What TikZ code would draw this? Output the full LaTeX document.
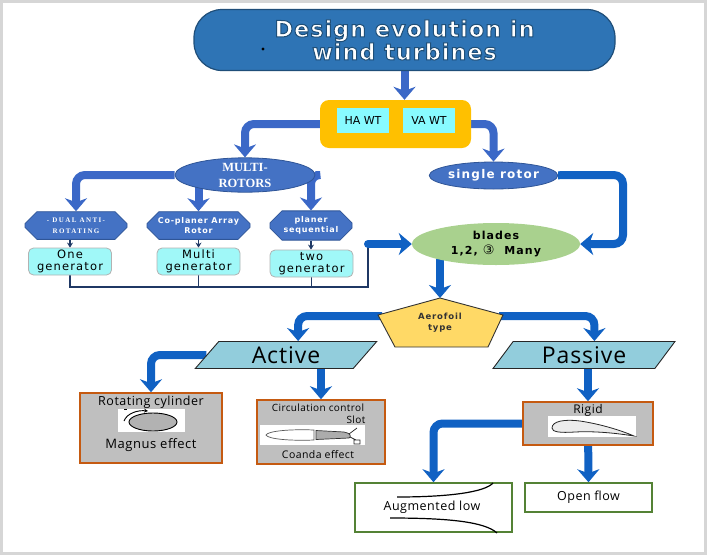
\documentclass[tikz,border=0pt]{standalone}
\usepackage{fontspec}
\setmainfont{DejaVu Sans}
\newfontfamily\spfont[LetterSpace=10]{DejaVu Sans}
\newfontfamily\titlefont[LetterSpace=4]{DejaVu Sans}
\newfontfamily\osfont[LetterSpace=4]{Open Sans}
\newfontfamily\serfont{Liberation Serif}
\newfontfamily\octfont[LetterSpace=20]{Liberation Serif}
\newcommand{\outlined}[1]{\special{pdf:code 2 Tr 1 w 0.12 0.31 0.47 RG}#1\special{pdf:code 0 Tr}}
\usetikzlibrary{arrows.meta,shapes.misc,shapes.geometric,backgrounds}
\definecolor{titleblue}{HTML}{2E74B5}
\definecolor{titleedge}{HTML}{1F4E79}
\definecolor{upblue}{HTML}{3B68C7}
\definecolor{lowblue}{HTML}{1061C3}
\definecolor{hubyellow}{HTML}{FFC000}
\definecolor{wtcyan}{HTML}{88FBFF}
\definecolor{rotorblue}{HTML}{4472C4}
\definecolor{rotoredge}{HTML}{2F5597}
\definecolor{gencyan}{HTML}{A0F8F8}
\definecolor{busnavy}{HTML}{1F3864}
\definecolor{bladegreen}{HTML}{A9D18E}
\definecolor{aerofill}{HTML}{FFD966}
\definecolor{typeblue}{HTML}{92CDDC}
\definecolor{boxgray}{HTML}{BFBFBF}
\definecolor{boxorange}{HTML}{C55A11}
\definecolor{flowgreen}{HTML}{548235}
\definecolor{framegray}{HTML}{D6D6D6}

\tikzset{
  uparrow/.style={draw=upblue, line width=8pt, rounded corners=9pt,
    -{Stealth[length=13pt,width=22pt,inset=4pt]}},
  lowarrow/.style={draw=lowblue, line width=8pt, rounded corners=9pt,
    -{Stealth[length=13pt,width=22pt,inset=4pt]}},
  thinarrow/.style={draw=busnavy, line width=1.6pt, -{Stealth[length=5pt,width=6pt]}},
  busline/.style={draw=busnavy, line width=1.6pt},
  wtbox/.style={fill=wtcyan, minimum width=52pt, minimum height=25pt, inner sep=0pt,
    font=\fontsize{11}{13}\selectfont},
  rotor/.style={ellipse, fill=rotorblue, draw=rotoredge, line width=0.8pt, text=white,
    inner sep=0pt, align=center},
  octbox/.style={chamfered rectangle, chamfered rectangle xsep=6pt,
    chamfered rectangle ysep=6pt, fill=rotorblue, draw=rotoredge, line width=0.8pt,
    text=white, minimum height=25pt, inner sep=0pt, align=center},
  genbox/.style={rectangle, rounded corners=5pt, fill=gencyan, draw=gray!60,
    line width=0.8pt, minimum width=83pt, minimum height=27pt, inner sep=0pt,
    align=center, font=\spfont\fontsize{11.5}{12}\selectfont},
  typebox/.style={trapezium, trapezium left angle=55, trapezium right angle=125,
    trapezium stretches=true, fill=typeblue, draw=black!85, line width=0.9pt,
    minimum width=182pt, minimum height=27pt, inner sep=0pt,
    font=\osfont\fontsize{23}{26}\selectfont},
  graybox/.style={rectangle, fill=boxgray, draw=boxorange, line width=1.5pt},
  flowbox/.style={rectangle, fill=white, draw=flowgreen, line width=1.5pt}
}

\begin{document}
\begin{tikzpicture}[x=1pt, y=-1pt]
  \useasboundingbox (0,0) rectangle (707,555);

  \node[rectangle, rounded corners=28pt, fill=titleblue, draw=titleedge, line width=1.2pt,
    minimum width=421pt, minimum height=61pt, text=white, align=center,
    font=\titlefont\bfseries\fontsize{22.5}{23}\selectfont] (title) at (404.5,40)
    {\outlined{Design evolution in}\\\outlined{wind turbines}};
  \node[circle, fill=black, inner sep=1.1pt] (dot) at (263,49) {};

  \node[rectangle, rounded corners=9pt, fill=hubyellow, minimum width=151pt,
    minimum height=48pt] (hub) at (395.5,124) {};
  \node[wtbox] (hawt) at (363,120.5) {HA WT};
  \node[wtbox] (vawt) at (429,120.5) {VA WT};

  \node[rotor, minimum width=140pt, minimum height=31pt,
    font=\serfont\bfseries\fontsize{12.5}{16}\selectfont] (multi) at (245,175)
    {MULTI-\\ROTORS};
  \node[rotor, minimum width=122pt, minimum height=27pt,
    font=\spfont\bfseries\fontsize{12}{14}\selectfont] (single) at (493.5,175.5)
    {single rotor};

  \node[octbox, minimum width=102pt, font=\octfont\bfseries\fontsize{7}{11}\selectfont]
    (dual) at (76,225.5) {- DUAL ANTI-\\ROTATING};
  \node[octbox, minimum width=103pt, font=\spfont\bfseries\fontsize{8}{9.5}\selectfont]
    (coplan) at (198.5,225.5) {Co-planer Array\\Rotor};
  \node[octbox, minimum width=82pt, font=\spfont\bfseries\fontsize{8}{9.5}\selectfont]
    (plan) at (311,225.5) {planer\\sequential};

  \node[genbox] (gen1) at (70,261.5) {One\\generator};
  \node[genbox] (gen2) at (198.5,261.5) {Multi\\generator};
  \node[genbox] (gen3) at (311.5,263.5) {two\\generator};
  \coordinate (bus) at (368,287);

  \node[ellipse, fill=bladegreen, minimum width=168pt, minimum height=42pt, inner sep=0pt,
    align=center, font=\spfont\bfseries\fontsize{11}{15}\selectfont] (blades) at (496,244)
    {blades\\1,2, {\normalfont\fontsize{13}{15}\selectfont ③}\ \ Many};
  \coordinate (rturn) at (623,175);

  \filldraw[fill=aerofill, draw=black!80, line width=0.9pt]
    (440,298) -- (503,315) -- (488,347) -- (395,347) -- (378,315) -- cycle;
  \coordinate (aero-t) at (440,298);
  \coordinate (aero-l) at (382,316);
  \coordinate (aero-r) at (499,316);
  \node[align=center, text=black!80, font=\spfont\bfseries\fontsize{8.5}{11}\selectfont]
    (aero) at (440,323) {Aerofoil\\type};

  \node[typebox] (active) at (286,355) {Active};
  \node[typebox] (passive) at (584,355) {Passive};

  \node[graybox, minimum width=142pt, minimum height=70pt] (magnus) at (151,428) {};
  \node[font=\osfont\fontsize{12.5}{14}\selectfont] (magnus-t) at (151,402) {Rotating cylinder};
  \node[font=\osfont\fontsize{13}{14}\selectfont] (magnus-b) at (151,445) {Magnus effect};
  \fill[white] (118,409) rectangle (185,432);
  \draw[fill=gray!60, line width=0.9pt] (153,422) ellipse [x radius=24pt, y radius=9pt];
  \draw[line width=0.9pt, -{Stealth[length=4pt,width=4pt]}]
    (124,421) .. controls (127,413) and (138,410) .. (148,411);
  \draw[line width=1pt] (124,409) -- (127,409);

  \node[graybox, minimum width=128pt, minimum height=64pt] (circ) at (321,432) {};
  \node[font=\osfont\fontsize{10}{12}\selectfont] (circ-t) at (318,408) {Circulation control};
  \node[font=\osfont\fontsize{10}{12}\selectfont] (slot) at (356,420) {Slot};
  \node[font=\osfont\fontsize{10.5}{12}\selectfont] (circ-b) at (318,455) {Coanda effect};
  \fill[white] (260,425) rectangle (365,445);
  \draw[fill=white, draw=gray!70!black, line width=0.7pt]
    (314,430) .. controls (290,429) and (268,431) .. (266,435)
    .. controls (268,439) and (290,441) .. (314,440) -- cycle;
  \draw[fill=gray!65, draw=gray!40!black, line width=0.7pt]
    (316,430.5) -- (344,432) .. controls (350,433) and (352,436) .. (349,438)
    -- (316,439.5) -- cycle;
  \draw[gray!30!black, line width=0.7pt] (349,434) -- (357,428) (350,437) -- (356,440)
    (354,440) rectangle (360,444);

  \node[graybox, minimum width=130pt, minimum height=43pt] (rigid) at (588,423.5) {};
  \node[font=\osfont\fontsize{12}{14}\selectfont] (rigid-t) at (588,410) {Rigid};
  \fill[white] (548,416) rectangle (636,437);
  \draw[fill=gray!15, draw=gray!30!black, line width=0.8pt]
    (552,428) .. controls (552,421) and (565,419) .. (580,421)
    .. controls (600,424) and (620,430) .. (634,436)
    .. controls (615,433) and (595,431) .. (575,432)
    .. controls (560,433) and (552,432) .. (552,428) -- cycle;

  \node[flowbox, minimum width=157pt, minimum height=49pt] (aug) at (433.5,507.5) {};
  \node[font=\osfont\fontsize{12.5}{14}\selectfont] (aug-t) at (432,507) {Augmented low};
  \draw[line width=1.2pt] (397,497) .. controls (450,497) and (485,492) .. (493,483);
  \draw[line width=1.2pt] (390,518) .. controls (450,518) and (485,522) .. (497,533);
  \node[flowbox, minimum width=127pt, minimum height=29pt,
    font=\osfont\fontsize{12.5}{14}\selectfont] (open) at (588.5,497.5) {Open flow};

  \begin{scope}[on background layer]
    \draw[uparrow] (title) -- (title |- hub.north);
    \draw[uparrow] (hub) -| (multi.north);
    \draw[uparrow] (hub) -| (single.north);
    \draw[uparrow] (multi) -| (dual.north);
    \draw[uparrow] (multi.center -| coplan.north) -- (coplan.north);
    \draw[uparrow] (multi) -| (plan.north);
    \draw[thinarrow] (gen1.north |- dual.south) -- (gen1.north);
    \draw[thinarrow] (coplan.south) -- (gen2.north);
    \draw[thinarrow] (plan.south) -- (plan.south |- gen3.north);
    \draw[busline] (gen1.south) |- (bus) -- (bus |- blades.west);
    \draw[busline] (gen2.south) -- (gen2.south |- bus);
    \draw[busline] (gen3.south) -- (gen3.south |- bus);
    \draw[lowarrow, line cap=round] (bus |- blades.west) -- (blades.west);
    \draw[lowarrow] (single) -- (rturn) |- (blades.east);
    \draw[lowarrow] (blades.center -| aero-t) -- (aero-t);
    \draw[lowarrow] (aero-l) -| (active.top side);
    \draw[lowarrow] (aero-r) -| (passive.top side);
    \draw[lowarrow] (active) -| (magnus.north);
    \draw[lowarrow] (active.center -| circ.north) -- (circ.north);
    \draw[lowarrow] (passive.center -| rigid.north) -- (rigid.north);
    \draw[lowarrow] (rigid) -| (aug.north);
    \draw[lowarrow] (rigid) -- (open.north);
  \end{scope}

  \draw[framegray, line width=3pt] (1.5,1.5) rectangle (705.5,553.5);
\end{tikzpicture}
\end{document}
